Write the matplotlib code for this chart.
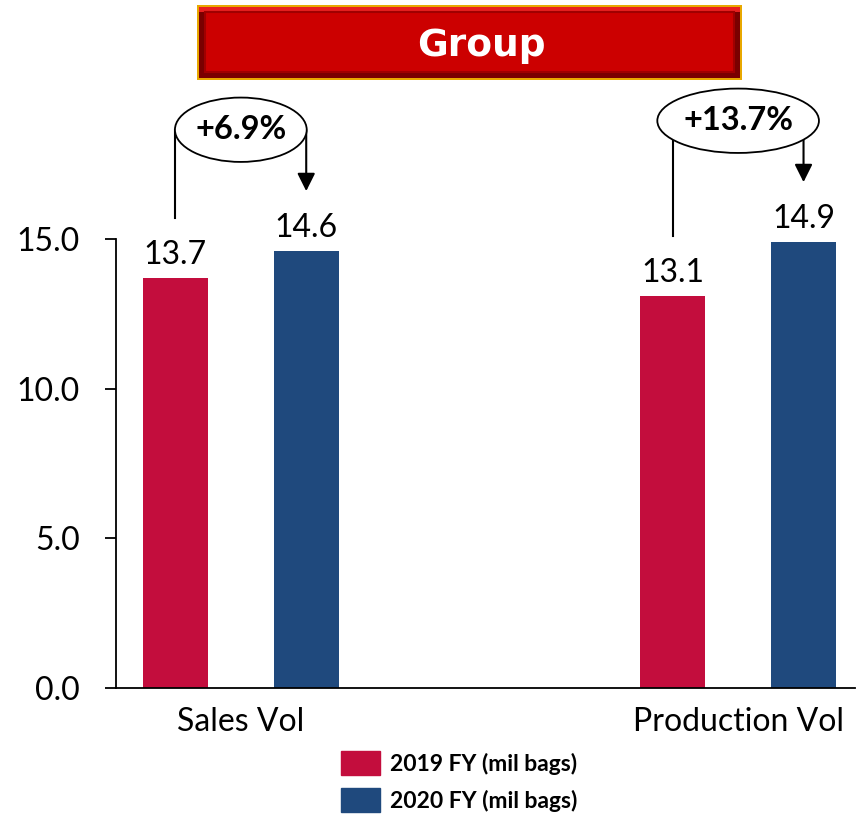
import matplotlib.pyplot as plt
from matplotlib.patches import Rectangle, Ellipse, Patch

# data
categories = ['Sales Vol', 'Production Vol']
fy2019 = [13.7, 13.1]
fy2020 = [14.6, 14.9]
growth = ['+6.9%', '+13.7%']
series_labels = ['2019 FY (mil bags)', '2020 FY (mil bags)']

red = '#C30D3D'
blue = '#1F497D'
plt.rcParams['font.family'] = ['Lato', 'DejaVu Sans']

W, H = 856, 821
fig = plt.figure(figsize=(W / 100, H / 100), dpi=100)
ax = fig.add_axes([116 / W, 133 / H, (855 - 116) / W, 449 / H])

x = [0, 1]
off, bw = 0.1315, 0.1305
b1 = ax.bar([i - off for i in x], fy2019, bw, color=red, clip_on=False, zorder=2)
b2 = ax.bar([i + off for i in x], fy2020, bw, color=blue, clip_on=False, zorder=2)

for bars in (b1, b2):
    for r in bars:
        ax.annotate(f'{r.get_height():.1f}', (r.get_x() + r.get_width() / 2, r.get_height()),
                    xytext=(0, 6), textcoords='offset points', ha='center', va='bottom',
                    fontsize=23, annotation_clip=False)

# growth callouts
ell_w = [0.265, 0.325]
for i in x:
    yc = max(fy2019[i], fy2020[i]) + 4.05
    xl, xr = i - off, i + off
    ax.plot([xl, xl], [yc, fy2019[i] + 2.0], color='black', lw=1.5, clip_on=False, zorder=3)
    ax.annotate('', xy=(xr, fy2020[i] + 2.0), xytext=(xr, yc), annotation_clip=False,
                arrowprops=dict(arrowstyle='-|>', lw=1.5, color='black', mutation_scale=27,
                                shrinkA=0, shrinkB=0), zorder=3)
    ax.add_patch(Ellipse((i, yc), ell_w[i], 2.15, facecolor='white', edgecolor='black',
                         lw=1.3, clip_on=False, zorder=4))
    ax.text(i, yc, growth[i], ha='center', va='center', fontsize=23.5, fontweight='bold', zorder=5)

ax.set_ylim(0, 15)
ax.set_xlim(-0.251, 1.235)
ax.set_yticks([0, 5, 10, 15])
ax.set_yticklabels([f'{v:.1f}' for v in [0, 5, 10, 15]], fontsize=23)
ax.set_xticks(x)
ax.set_xticklabels(categories, fontsize=23)
ax.tick_params(axis='y', length=8, width=1.3, pad=18)
ax.tick_params(axis='x', length=0, pad=14)
for s in ['top', 'right']:
    ax.spines[s].set_visible(False)
ax.spines['left'].set_linewidth(1.3)
ax.spines['bottom'].set_linewidth(1.3)

# legend
handles = [Patch(color=red), Patch(color=blue)]
fig.legend(handles, series_labels, loc='upper left', bbox_to_anchor=(332 / W, 1 - 742 / H),
           frameon=False, prop={'weight': 'bold', 'size': 16.5}, handlelength=1.7,
           handleheight=1.25, labelspacing=0.55, handletextpad=0.45, borderaxespad=0)

# title banner
fig.add_artist(Rectangle((197 / W, 1 - 80 / H), 545 / W, 75 / H, transform=fig.transFigure,
                         facecolor='#E8A800', edgecolor='none'))
fig.add_artist(Rectangle((199 / W, 1 - 78 / H), 541 / W, 71 / H, transform=fig.transFigure,
                         facecolor='#7A0000', edgecolor='none'))
fig.add_artist(Rectangle((199 / W, 1 - 12 / H), 541 / W, 5 / H, transform=fig.transFigure,
                         facecolor='#E82020', edgecolor='none'))
fig.add_artist(Rectangle((205 / W, 1 - 72 / H), 529 / W, 60 / H, transform=fig.transFigure,
                         facecolor='#CC0000', edgecolor='#A00000', lw=1.5))
fig.text(481 / W, 1 - 46 / H, 'Group', ha='center', va='center', color='white',
         fontsize=27, fontweight='bold', family='DejaVu Sans')

fig.savefig('out.png', dpi=100)
